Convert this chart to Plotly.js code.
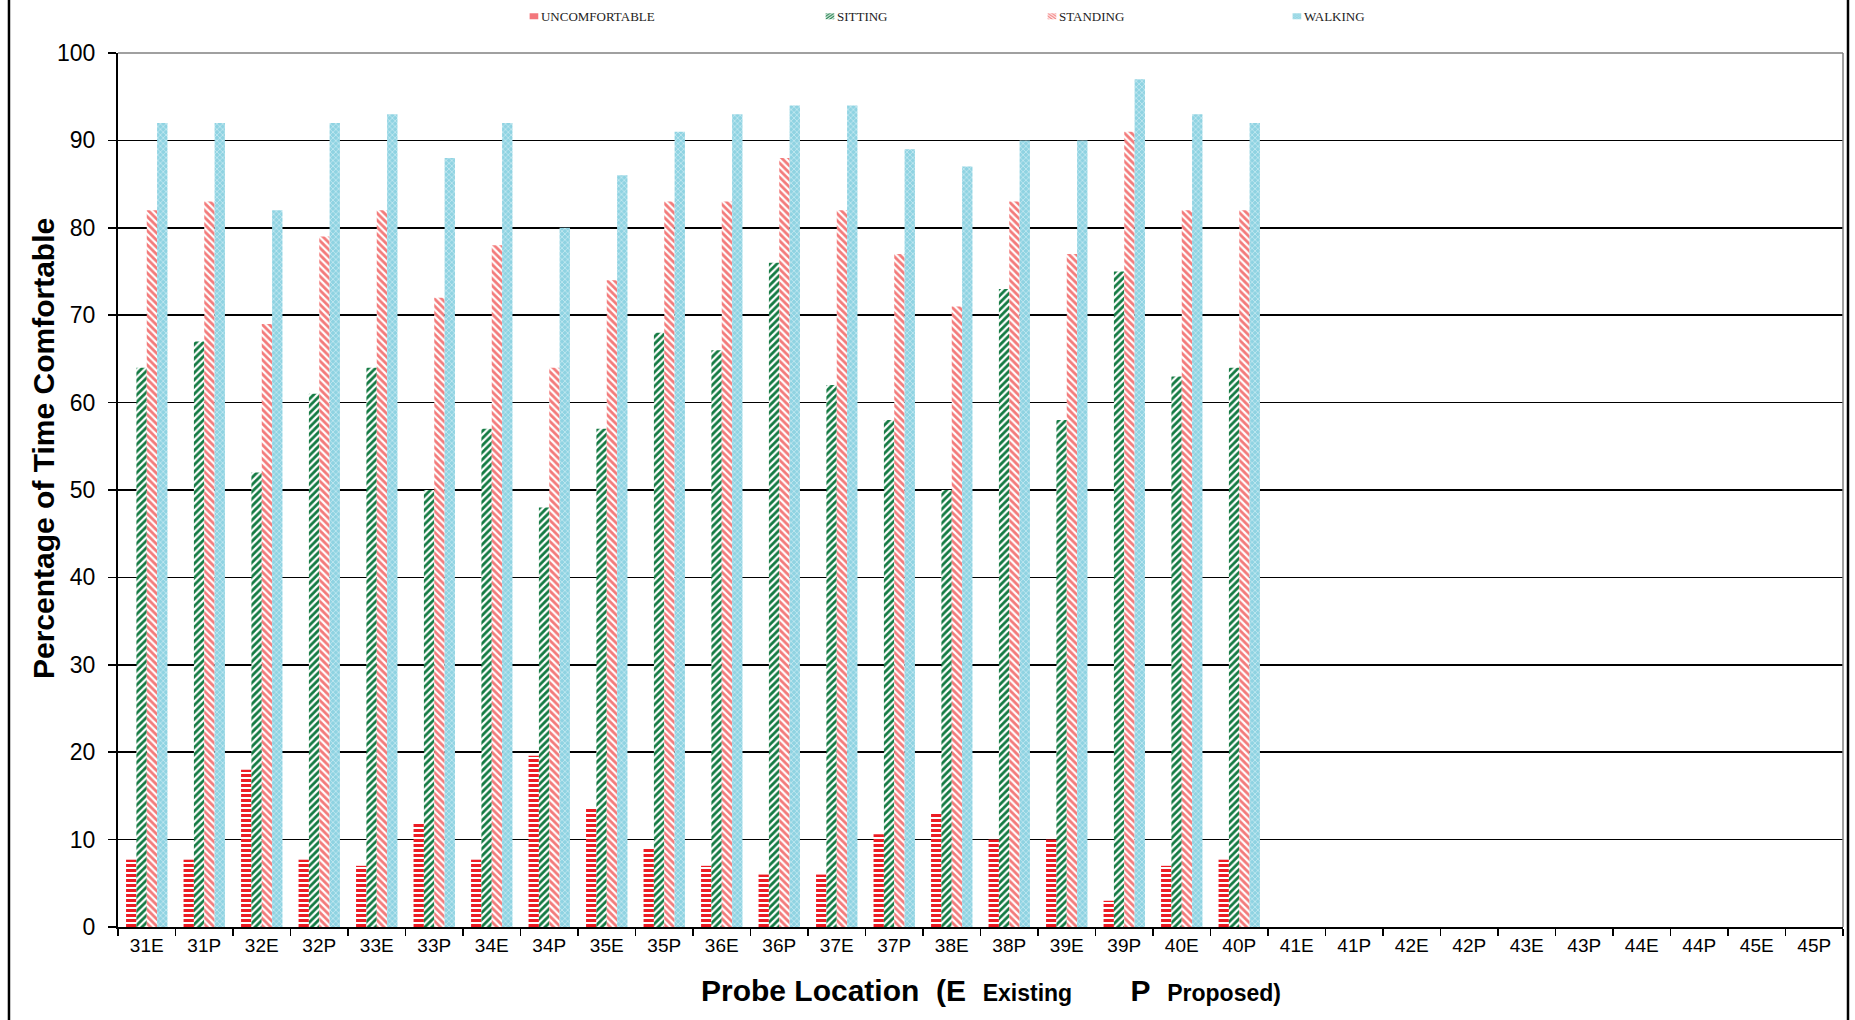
<!DOCTYPE html>
<html>
<head>
<meta charset="utf-8">
<script src="https://cdn.plot.ly/plotly-3.0.1.min.js"></script>
<style>
  html, body { margin: 0; padding: 0; background: #fff; }
  #chart { width: 1855px; height: 1020px; }
</style>
</head>
<body>
<div id="chart"></div>
<script>
// Probe locations (E = existing, P = proposed)
const probes = ['31E','31P','32E','32P','33E','33P','34E','34P','35E','35P',
                '36E','36P','37E','37P','38E','38P','39E','39P','40E','40P',
                '41E','41P','42E','42P','43E','43P','44E','44P','45E','45P'];
const measuredProbes = probes.slice(0, 20);

// Percentage of time comfortable for each activity
const uncomfortable = [7.7, 7.7, 18, 7.7, 7, 12, 7.7, 19.6, 13.7, 9, 7, 6, 6, 10.6, 13, 10, 10, 3, 7, 7.7];
const sitting  = [64, 67, 52, 61, 64, 50, 57, 48, 57, 68, 66, 76, 62, 58, 50, 73, 58, 75, 63, 64];
const standing = [82, 83, 69, 79, 82, 72, 78, 64, 74, 83, 83, 88, 82, 77, 71, 83, 77, 91, 82, 82];
const walking  = [92, 92, 82, 92, 93, 88, 92, 80, 86, 91, 93, 94, 94, 89, 87, 90, 90, 97, 93, 92];

const yTicks = [0, 10, 20, 30, 40, 50, 60, 70, 80, 90, 100];

const sans = 'Liberation Sans, Arial, sans-serif';
const narrow = 'Liberation Sans Narrow, Arial Narrow, Liberation Sans, sans-serif';
const serif = 'Liberation Serif, Times New Roman, serif';

function barTrace(name, values, legendId, pattern) {
  return {
    type: 'bar',
    name: name,
    x: measuredProbes,
    y: values,
    legend: legendId,
    marker: {
      color: pattern.bgcolor,
      line: { width: 0 },
      pattern: pattern
    },
    hoverinfo: 'x+y+name'
  };
}

const traces = [
  barTrace('UNCOMFORTABLE', uncomfortable, 'legend',
    { shape: '-', size: 5, solidity: 0.6, fgcolor: '#ec1c24', bgcolor: '#ffffff', fillmode: 'replace' }),
  barTrace('SITTING', sitting, 'legend2',
    { shape: '/', size: 5, solidity: 0.55, fgcolor: '#137a42', bgcolor: '#ffffff', fillmode: 'replace' }),
  barTrace('STANDING', standing, 'legend3',
    { shape: '\\', size: 5, solidity: 0.55, fgcolor: '#f37a7a', bgcolor: '#ffffff', fillmode: 'replace' }),
  barTrace('WALKING', walking, 'legend4',
    { shape: 'x', size: 4, solidity: 0.3, fgcolor: '#d3eff5', bgcolor: '#8fd3e2', fillmode: 'replace' })
];

const legendFont = { family: serif, size: 13, color: '#222' };
function legendAt(x) {
  return {
    x: x, xanchor: 'left', y: 1.042, yanchor: 'middle',
    orientation: 'h', font: legendFont, bgcolor: 'rgba(0,0,0,0)',
    itemwidth: 30, tracegroupgap: 0
  };
}

const nb = '\u00A0';
const xTitle = 'Probe Location' + nb + nb + '(E' + nb + nb +
  '<span style="font-size:23px">Existing</span>' + nb.repeat(7) +
  'P' + nb + nb + '<span style="font-size:23px">Proposed)</span>';

const layout = {
  width: 1855,
  height: 1020,
  margin: { l: 118, r: 12, t: 53, b: 93, autoexpand: false },
  paper_bgcolor: '#ffffff',
  plot_bgcolor: '#ffffff',
  barmode: 'group',
  bargap: 0.28,
  bargroupgap: 0,
  showlegend: true,
  legend:  legendAt(0.2220),
  legend2: legendAt(0.3936),
  legend3: legendAt(0.5223),
  legend4: legendAt(0.6643),
  xaxis: {
    type: 'category',
    categoryorder: 'array',
    categoryarray: probes,
    range: [-0.5, probes.length - 0.5],
    tickson: 'boundaries',
    ticks: 'outside',
    ticklen: 7,
    tickwidth: 1.5,
    tickcolor: '#000',
    showline: true,
    linecolor: '#000',
    linewidth: 2,
    showgrid: false,
    tickfont: { family: sans, size: 19, color: '#000' },
    fixedrange: true
  },
  yaxis: {
    range: [0, 100],
    tickmode: 'array',
    tickvals: yTicks,
    ticktext: yTicks.map(String),
    ticks: 'outside',
    ticklen: 8,
    tickwidth: 1.5,
    tickcolor: '#000',
    ticklabelstandoff: 8,
    showline: true,
    linecolor: '#000',
    linewidth: 2,
    showgrid: true,
    gridcolor: '#000',
    gridwidth: 1.5,
    zeroline: false,
    tickfont: { family: sans, size: 23, color: '#000' },
    fixedrange: true
  },
  shapes: [
    // top and right edges of the plotting area
    { type: 'line', xref: 'paper', yref: 'paper', x0: 0, x1: 1, y0: 1, y1: 1,
      line: { color: '#808080', width: 1.5 } },
    { type: 'line', xref: 'paper', yref: 'paper', x0: 1, x1: 1, y0: 0, y1: 1,
      line: { color: '#808080', width: 1.5 } },
    // outer chart frame
    { type: 'line', xref: 'paper', yref: 'paper', x0: -0.0632, x1: -0.0632, y0: -0.2, y1: 1.2,
      line: { color: '#000', width: 2.5 } },
    { type: 'line', xref: 'paper', yref: 'paper', x0: 1.0029, x1: 1.0029, y0: -0.2, y1: 1.2,
      line: { color: '#000', width: 2.5 } }
  ],
  annotations: [
    {
      text: 'Percentage of Time Comfortable',
      xref: 'paper', yref: 'paper',
      x: -0.0435, y: 0.548,
      xanchor: 'center', yanchor: 'middle',
      textangle: -90, showarrow: false,
      font: { family: narrow, size: 30, color: '#000', weight: 'bold' }
    },
    {
      text: xTitle,
      xref: 'paper', yref: 'paper',
      x: 0.506, y: -0.073,
      xanchor: 'center', yanchor: 'middle',
      showarrow: false,
      font: { family: narrow, size: 30, color: '#000', weight: 'bold' }
    }
  ]
};

// shrink each legend swatch and tuck it against its label
function tightenLegendSwatches(gd) {
  const t = 'translate(33px,0px) scale(0.72,0.5)';
  gd.querySelectorAll('.legendpoints path').forEach(function (p) {
    p.removeAttribute('transform');
    p.style.transform = t;
  });
}

Plotly.newPlot('chart', traces, layout, { displayModeBar: false, staticPlot: true }).then(function (gd) {
  tightenLegendSwatches(gd);
  setTimeout(function () { tightenLegendSwatches(gd); }, 50);
});
</script>
</body>
</html>
